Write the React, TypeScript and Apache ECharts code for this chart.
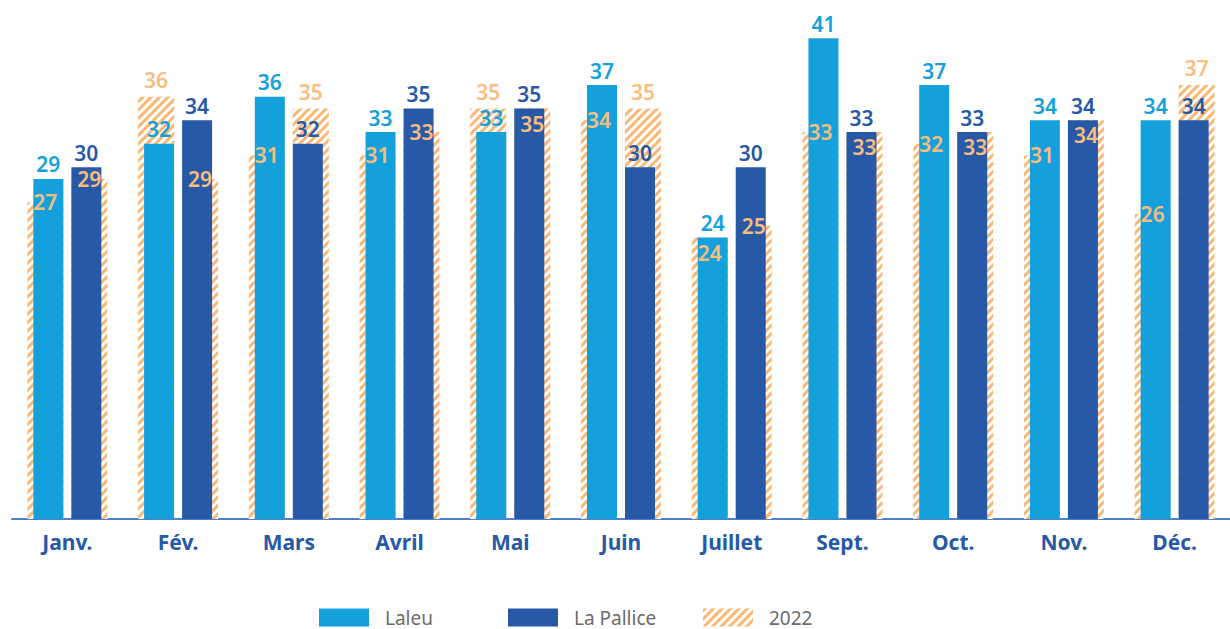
import React, { useEffect, useRef } from "react";
import * as echarts from "echarts";

const months = ["Janv.", "Fév.", "Mars", "Avril", "Mai", "Juin", "Juillet", "Sept.", "Oct.", "Nov.", "Déc."];
const laleu = [29, 32, 36, 33, 33, 37, 24, 41, 37, 34, 34];
const pallice = [30, 34, 32, 35, 35, 30, 30, 33, 33, 34, 34];
const laleu2022 = [27, 36, 31, 31, 35, 34, 24, 33, 32, 31, 26];
const pallice2022 = [29, 29, 35, 33, 35, 35, 25, 33, 33, 34, 37];

const C_LALEU = "#14a1db";
const C_PALLICE = "#2759a6";
const C_ORANGE = "#fdb774";
const C_ORANGE_TXT = "#f9bd7f";
const FONT = "'Noto Sans', sans-serif";

const decal = {
  symbol: "rect",
  symbolSize: 1,
  dashArrayX: [1, 0],
  dashArrayY: [3, 3],
  rotation: -Math.PI / 4,
  color: C_ORANGE,
};

function labelSeries(vals: number[], cur: number[], dx: number) {
  return {
    type: "custom",
    name: "labels2022",
    xAxisIndex: 1,
    z: 5,
    silent: true,
    data: vals.map((v, i) => [i, v, cur[i]]),
    renderItem: (params: any, api: any) => {
      const i = api.value(0);
      const v = api.value(1);
      const c = api.value(2);
      const p = api.coord([i, v]);
      let y = p[1];
      if (v > c) y = p[1] - 17;
      else if (v === c) y = p[1] + 15;
      return {
        type: "text",
        x: p[0] + dx,
        y,
        style: {
          text: String(v),
          fill: C_ORANGE_TXT,
          font: `600 21px ${FONT}`,
          align: "center",
          verticalAlign: "middle",
        },
      };
    },
  };
}

export default function App() {
  const ref = useRef<HTMLDivElement>(null);
  useEffect(() => {
    if (!ref.current) return;
    const chart = echarts.init(ref.current, undefined, { renderer: "svg" });
    const numLabel = (color: string) => ({
      show: true,
      position: "top",
      distance: 4,
      color,
      fontSize: 21,
      fontWeight: 600,
      fontFamily: FONT,
    });
    const legendBase = {
      top: 608,
      padding: 0,
      itemWidth: 50,
      itemHeight: 18,
      icon: "rect",
      textStyle: { color: "#6b6b6b", fontSize: 19, fontFamily: FONT, padding: [0, 0, 0, 11] },
    };
    chart.setOption({
      animation: false,
      grid: { left: 12, top: 3, width: 1225, bottom: 110, containLabel: false },
      legend: [
        { ...legendBase, left: 319, data: ["Laleu"] },
        { ...legendBase, left: 508, data: ["La Pallice"] },
        { ...legendBase, left: 703, data: ["2022"] },
      ],
      xAxis: [
        {
          type: "category",
          data: months,
          axisTick: { show: false },
          axisLine: { lineStyle: { color: "#4f7fc6", width: 2 } },
          axisLabel: { color: C_PALLICE, fontSize: 21, fontWeight: "bold", fontFamily: FONT, margin: 12 },
        },
        { type: "category", data: months, show: false },
      ],
      yAxis: { type: "value", min: 0, max: 44, show: false, splitLine: { show: false } },
      series: [
        {
          name: "2022",
          type: "bar",
          xAxisIndex: 1,
          barWidth: 36,
          barGap: "22.2%",
          z: 1,
          itemStyle: { color: "#ffffff", decal },
          data: laleu2022,
        },
        {
          name: "2022",
          type: "bar",
          xAxisIndex: 1,
          barWidth: 36,
          barGap: "22.2%",
          z: 1,
          itemStyle: { color: "#ffffff", decal },
          data: pallice2022,
        },
        {
          name: "Laleu",
          type: "bar",
          xAxisIndex: 0,
          barWidth: 30,
          barGap: "26.7%",
          z: 2,
          itemStyle: { color: C_LALEU },
          label: numLabel(C_LALEU),
          data: laleu,
        },
        {
          name: "La Pallice",
          type: "bar",
          xAxisIndex: 0,
          barWidth: 30,
          barGap: "26.7%",
          z: 2,
          itemStyle: { color: C_PALLICE },
          label: numLabel(C_PALLICE),
          data: pallice,
        },
        labelSeries(laleu2022, laleu, -22),
        labelSeries(pallice2022, pallice, 22),
      ],
    });
    return () => chart.dispose();
  }, []);
  return <div ref={ref} style={{ position: "absolute", left: 0, top: 0, width: 1230, height: 629 }} />;
}
